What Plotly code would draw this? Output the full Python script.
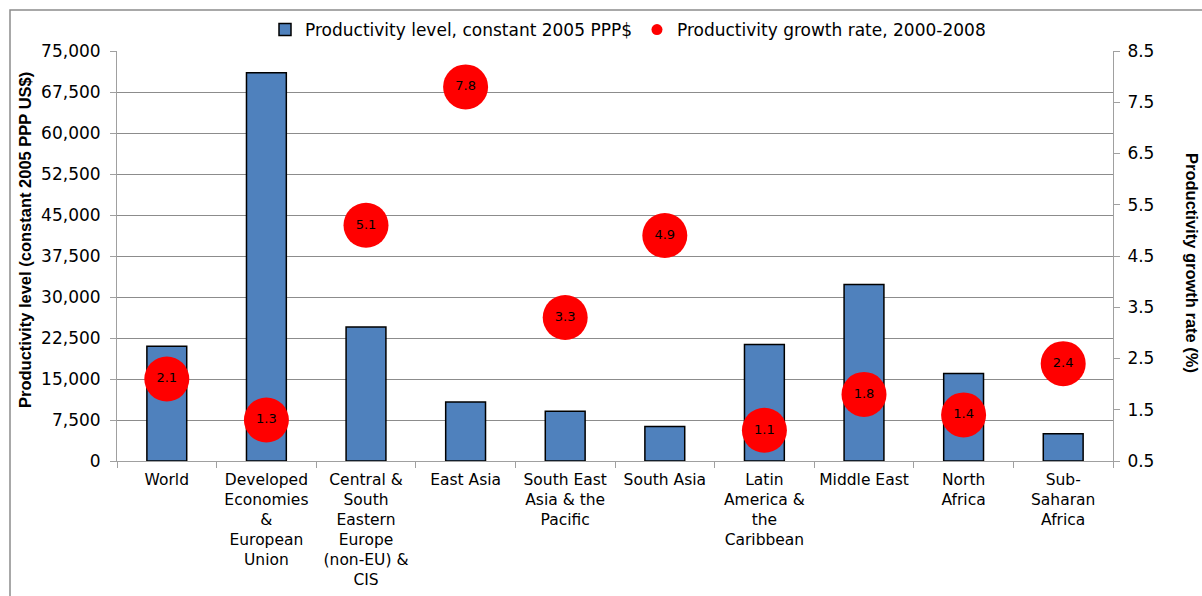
import plotly.graph_objects as go

categories = ["World", "Developed<br>Economies<br>&<br>European<br>Union",
              "Central &<br>South<br>Eastern<br>Europe<br>(non-EU) &<br>CIS",
              "East Asia", "South East<br>Asia & the<br>Pacific", "South Asia",
              "Latin<br>America &<br>the<br>Caribbean", "Middle East",
              "North<br>Africa", "Sub-<br>Saharan<br>Africa"]
productivity_level = [21000, 71000, 24500, 10800, 9100, 6300, 21300, 32300, 16000, 5000]
growth_rate = [2.1, 1.3, 5.1, 7.8, 3.3, 4.9, 1.1, 1.8, 1.4, 2.4]

left_ticks = [0, 7500, 15000, 22500, 30000, 37500, 45000, 52500, 60000, 67500, 75000]
right_ticks = [0.5, 1.5, 2.5, 3.5, 4.5, 5.5, 6.5, 7.5, 8.5]

FONT = "DejaVu Sans, Arial, sans-serif"
TITLE_FONT = "Liberation Sans, Arial, sans-serif"
W, H = 1202, 596
L, R, T, B = 117, 89, 51, 135
pw, ph = W - L - R, H - T - B

fig = go.Figure()
fig.add_trace(go.Bar(
    x=categories, y=productivity_level, name="Productivity level, constant 2005 PPP$",
    marker=dict(color="#4F81BD", line=dict(color="#000000", width=1.5)),
    width=0.4, yaxis="y"))
fig.add_trace(go.Scatter(
    x=categories, y=growth_rate, mode="markers+text", yaxis="y2", showlegend=False,
    marker=dict(color="#FF0000", size=45, symbol="circle"),
    text=[f"{v:.1f}" for v in growth_rate], textposition="middle center",
    textfont=dict(size=13, color="#000000", family=FONT)))
fig.add_trace(go.Scatter(
    x=[None], y=[None], mode="markers", yaxis="y2",
    name="Productivity growth rate, 2000-2008",
    marker=dict(color="#FF0000", size=11)))

axis_gray = "#A0A0A0"
fig.update_layout(
    width=W, height=H,
    margin=dict(l=L, r=R, t=T, b=B, autoexpand=False),
    paper_bgcolor="white", plot_bgcolor="white",
    font=dict(family=FONT, size=17, color="#000000"),
    bargap=0.6,
    legend=dict(orientation="h", x=(628 - L) / pw, xanchor="center",
                y=1 + (T - 30) / ph, yanchor="middle",
                font=dict(size=17, family=FONT), bgcolor="rgba(0,0,0,0)",
                traceorder="normal", itemwidth=30),
    xaxis=dict(range=[-0.5, 9.5], showline=True, linecolor=axis_gray, linewidth=1,
               ticks="outside", tickson="boundaries", ticklen=6, tickcolor=axis_gray,
               tickfont=dict(size=15.5), showgrid=False, tickangle=0, automargin=False,
               ticklabelstandoff=4),
    yaxis=dict(range=[0, 75000], tickvals=left_ticks, tickformat=",",
               showline=True, linecolor=axis_gray, linewidth=1,
               ticks="outside", ticklen=6, tickcolor=axis_gray,
               showgrid=True, gridcolor="#8C8C8C", gridwidth=1, automargin=False,
               zeroline=False, ticklabelstandoff=6, tickfont=dict(size=17)),
    yaxis2=dict(range=[0.5, 8.5], tickvals=right_ticks, tickformat=".1f",
                overlaying="y", side="right", automargin=False,
                showline=True, linecolor=axis_gray, linewidth=1,
                ticks="outside", ticklen=6, tickcolor=axis_gray,
                showgrid=False, zeroline=False, ticklabelstandoff=4,
                tickfont=dict(size=17)),
)

# axis titles
fig.add_annotation(text="<b>Productivity level (constant 2005 PPP US$)</b>",
                   xref="paper", yref="paper", x=(25 - L) / pw, y=(H - B - 240) / ph,
                   textangle=-90, showarrow=False, xanchor="center", yanchor="middle",
                   font=dict(size=16.5, family=TITLE_FONT))
fig.add_annotation(text="<b>Productivity growth rate (%)</b>",
                   xref="paper", yref="paper", x=(1192 - L) / pw, y=(H - B - 263) / ph,
                   textangle=90, showarrow=False, xanchor="center", yanchor="middle",
                   font=dict(size=16.5, family=TITLE_FONT))

# chart area border
fig.add_shape(type="rect", xref="paper", yref="paper",
              x0=(10 - L) / pw, x1=(1260 - L) / pw,
              y0=(H - B - 640) / ph, y1=(H - B - 10) / ph,
              line=dict(color="#8C8C8C", width=1.5), fillcolor="rgba(0,0,0,0)", layer="below")

fig.write_html("out.html", post_script="document.body.style.margin='0';",
               config={"displayModeBar": False})
